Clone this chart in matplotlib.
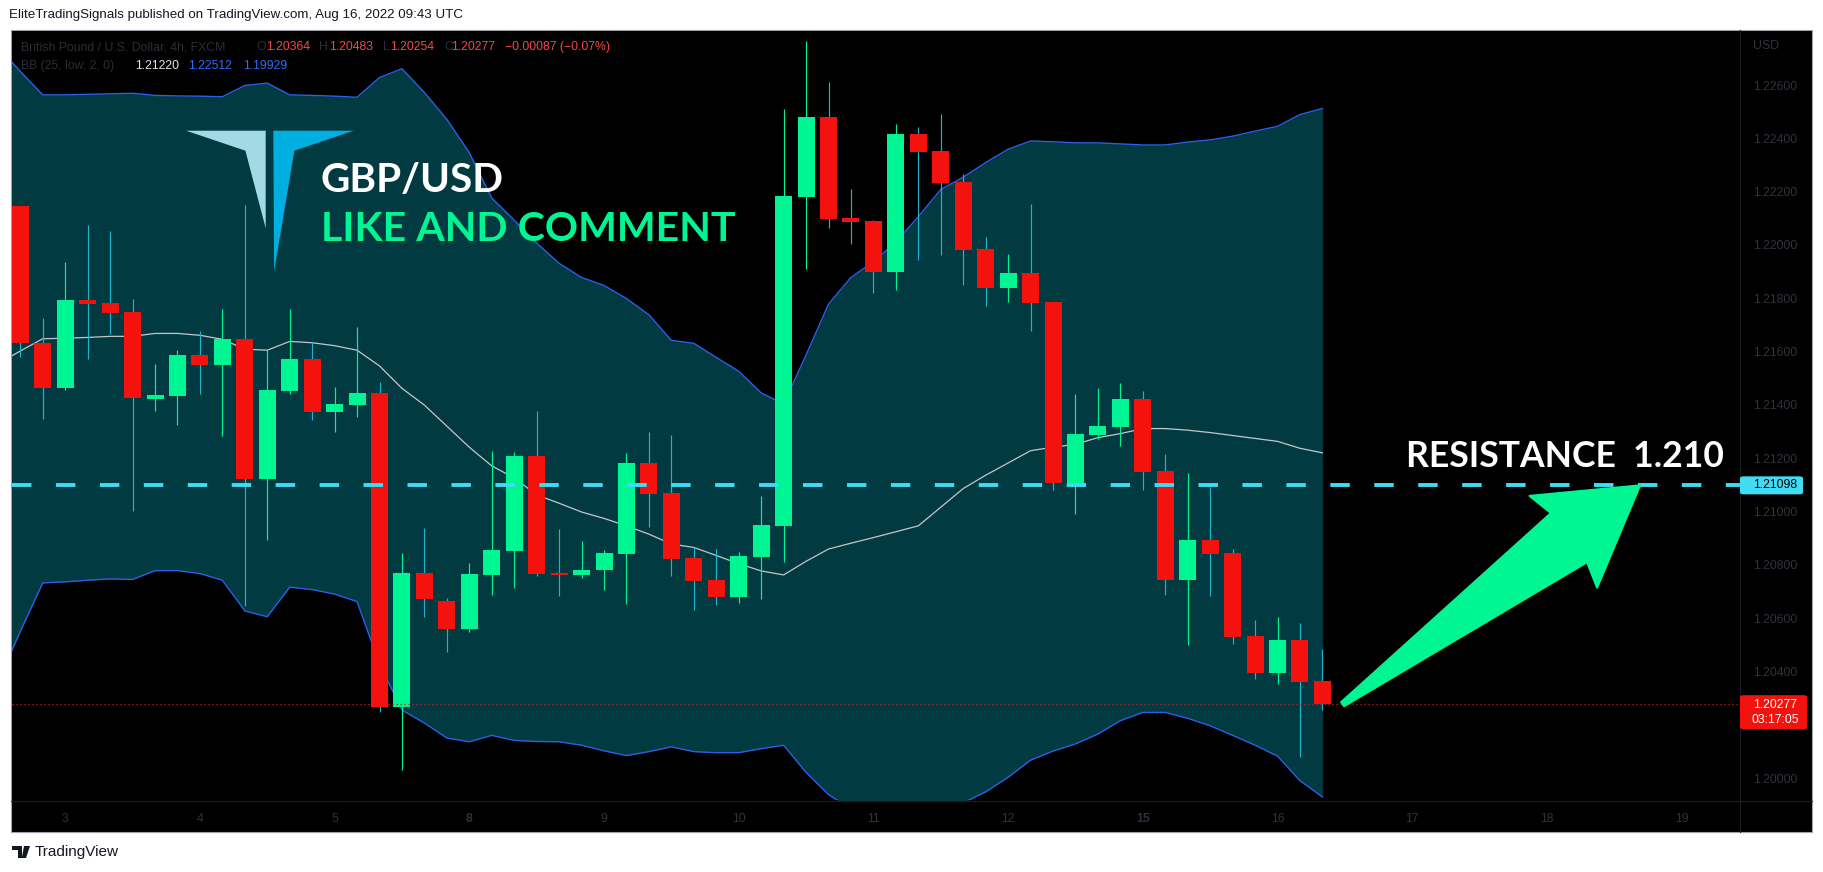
import numpy as np
import matplotlib
matplotlib.use("Agg")
import matplotlib.pyplot as plt
import matplotlib.transforms as mtransforms
from matplotlib.patches import Polygon, Rectangle, FancyBboxPatch
from matplotlib.lines import Line2D
from matplotlib.ticker import FormatStrFormatter

# GBP/USD 4h candles (FXCM)
opens = [1.22145, 1.21633, 1.21463, 1.21793, 1.21782, 1.21749, 1.21423, 1.21434, 1.21587, 1.21550,
         1.21648, 1.21123, 1.21452, 1.21572, 1.21373, 1.21399, 1.21445, 1.20266, 1.20769, 1.20664,
         1.20559, 1.20762, 1.20852, 1.21209, 1.20769, 1.20760, 1.20780, 1.20841, 1.21182, 1.21069,
         1.20826, 1.20743, 1.20679, 1.20830, 1.20946, 1.22180, 1.22480, 1.22101, 1.22090, 1.21898,
         1.22416, 1.22353, 1.22237, 1.21985, 1.21839, 1.21894, 1.21786, 1.21108, 1.21287, 1.21318,
         1.21423, 1.21152, 1.20743, 1.20893, 1.20845, 1.20533, 1.20395, 1.20519, 1.20364]
highs = [1.22145, 1.21727, 1.21937, 1.22075, 1.22053, 1.21797, 1.21554, 1.21605, 1.21677, 1.21760,
         1.22150, 1.21605, 1.21760, 1.21637, 1.21467, 1.21692, 1.21486, 1.20845, 1.20939, 1.20675,
         1.20808, 1.21228, 1.21224, 1.21377, 1.20935, 1.20889, 1.20856, 1.21220, 1.21298, 1.21287,
         1.20865, 1.20859, 1.20848, 1.21058, 1.22510, 1.22766, 1.22611, 1.22209, 1.22093, 1.22454,
         1.22443, 1.22491, 1.22267, 1.22031, 1.21966, 1.22154, 1.21786, 1.21441, 1.21463, 1.21482,
         1.21452, 1.21217, 1.21145, 1.21091, 1.20859, 1.20594, 1.20605, 1.20581, 1.20483]
lows = [1.21578, 1.21347, 1.21456, 1.21572, 1.21666, 1.21003, 1.21377, 1.21325, 1.21441, 1.21283,
        1.20646, 1.20893, 1.21441, 1.21344, 1.21298, 1.21355, 1.20248, 1.20031, 1.20605, 1.20473,
        1.20548, 1.20686, 1.20714, 1.20758, 1.20684, 1.20751, 1.20705, 1.20653, 1.20942, 1.20758,
        1.20631, 1.20649, 1.20657, 1.20672, 1.20811, 1.21909, 1.22064, 1.22003, 1.21819, 1.21832,
        1.21944, 1.21963, 1.21850, 1.21771, 1.21786, 1.21677, 1.21080, 1.20990, 1.21272, 1.21246,
        1.21080, 1.20686, 1.20500, 1.20683, 1.20504, 1.20371, 1.20353, 1.20077, 1.20254]
closes = [1.21631, 1.21463, 1.21793, 1.21778, 1.21745, 1.21425, 1.21438, 1.21587, 1.21550, 1.21648,
          1.21123, 1.21456, 1.21572, 1.21375, 1.21403, 1.21445, 1.20266, 1.20769, 1.20672, 1.20559,
          1.20765, 1.20856, 1.21209, 1.20765, 1.20760, 1.20782, 1.20845, 1.21182, 1.21066, 1.20823,
          1.20740, 1.20679, 1.20834, 1.20950, 1.22184, 1.22480, 1.22097, 1.22086, 1.21898, 1.22416,
          1.22349, 1.22232, 1.21981, 1.21839, 1.21894, 1.21782, 1.21108, 1.21290, 1.21322, 1.21423,
          1.21149, 1.20743, 1.20893, 1.20841, 1.20530, 1.20395, 1.20519, 1.20360, 1.20277]

# Bollinger bands BB(25, low, 2, 0), one value per bar starting one bar before the first candle
bb_upper = [1.22744, 1.22651, 1.22563, 1.22563, 1.22565, 1.22567, 1.22569, 1.22561, 1.22559, 1.22558,
            1.22556, 1.22598, 1.22607, 1.22563, 1.22561, 1.22558, 1.22554, 1.22628, 1.22661, 1.22572,
            1.22471, 1.22346, 1.22176, 1.22093, 1.22007, 1.21931, 1.21878, 1.21848, 1.21799, 1.21738,
            1.21642, 1.21631, 1.21578, 1.21526, 1.21445, 1.21403, 1.21587, 1.21778, 1.21878, 1.21937,
            1.22011, 1.22106, 1.22208, 1.22254, 1.22309, 1.22359, 1.22390, 1.22387, 1.22383, 1.22383,
            1.22379, 1.22375, 1.22375, 1.22386, 1.22394, 1.22408, 1.22427, 1.22445, 1.22489, 1.22512]
bb_basis = [1.21554, 1.21602, 1.21648, 1.21650, 1.21653, 1.21657, 1.21657, 1.21668, 1.21668, 1.21661,
            1.21646, 1.21609, 1.21605, 1.21638, 1.21633, 1.21622, 1.21605, 1.21546, 1.21462, 1.21399,
            1.21320, 1.21241, 1.21171, 1.21126, 1.21062, 1.21031, 1.20998, 1.20974, 1.20946, 1.20915,
            1.20878, 1.20865, 1.20835, 1.20804, 1.20777, 1.20762, 1.20813, 1.20859, 1.20881, 1.20902,
            1.20924, 1.20946, 1.21016, 1.21086, 1.21136, 1.21182, 1.21228, 1.21241, 1.21252, 1.21277,
            1.21292, 1.21311, 1.21311, 1.21305, 1.21296, 1.21285, 1.21274, 1.21263, 1.21237, 1.21220]
bb_lower = [1.20360, 1.20550, 1.20732, 1.20736, 1.20742, 1.20747, 1.20745, 1.20778, 1.20778, 1.20767,
            1.20742, 1.20627, 1.20605, 1.20716, 1.20707, 1.20690, 1.20662, 1.20427, 1.20255, 1.20206,
            1.20150, 1.20136, 1.20160, 1.20141, 1.20137, 1.20136, 1.20123, 1.20102, 1.20084, 1.20099,
            1.20117, 1.20099, 1.20095, 1.20095, 1.20110, 1.20123, 1.20021, 1.19938, 1.19883, 1.19856,
            1.19846, 1.19856, 1.19874, 1.19907, 1.19948, 1.20003, 1.20067, 1.20101, 1.20128, 1.20165,
            1.20215, 1.20246, 1.20246, 1.20224, 1.20196, 1.20160, 1.20123, 1.20082, 1.19990, 1.19929]

day_labels = ["3", "4", "5", "8", "9", "10", "11", "12", "15", "16", "17", "18", "19"]
day_bar_index = [2, 8, 14, 20, 26, 32, 38, 44, 50, 56, 62, 68, 74]
week_start_labels = ["8", "15"]

resistance = 1.21098
countdown = "03:17:05"

W, H, DPI = 1823, 872, 100
GREEN = "#00f593"
RED = "#f4120e"
RED_WICK = "#1db6cc"
BAND_FILL = "#023a41"
BAND_LINE = "#2b5fe6"
BASIS = "#c4c6cb"
CYAN = "#3fdcf4"
DIM = "#30333d"
LEG_DIM = "#2b2e37"
SMALL = 8.8
plt.rcParams["font.family"] = ["Liberation Sans", "DejaVu Sans"]


def fp(x, y):
    # screenshot pixel (origin top-left) -> figure fraction
    return x / W, 1 - y / H


fig = plt.figure(figsize=(W / DPI, H / DPI), dpi=DPI, facecolor="white")

# chart frame
x0, y0 = fp(11, 832)
x1, y1 = fp(1812, 30)
fig.add_artist(Rectangle((x0, y0), x1 - x0, y1 - y0, transform=fig.transFigure,
                         facecolor="black", edgecolor="#a0a3ab", lw=0.8, zorder=0))

ax_l, ax_b = fp(11.5, 800)
ax_r, ax_t = fp(1740, 31)
ax = fig.add_axes([ax_l, ax_b, ax_r - ax_l, ax_t - ax_b])
ax.set_facecolor("black")
for s in ax.spines.values():
    s.set_visible(False)
ax.set_xlim(-0.392, 76.6)
ax.set_ylim(1.199175, 1.228026)

# bands
bx = np.arange(-1, len(bb_upper) - 1)
ax.fill_between(bx, bb_lower, bb_upper, color=BAND_FILL, lw=0, zorder=1)
ax.plot(bx, bb_upper, color=BAND_LINE, lw=1.0, zorder=2)
ax.plot(bx, bb_lower, color=BAND_LINE, lw=1.0, zorder=2)
ax.plot(bx, bb_basis, color=BASIS, lw=0.9, zorder=2)

# candles
o = np.array(opens)
c = np.array(closes)
idx = np.arange(len(o))
up = c >= o
body_col = np.where(up, GREEN, RED)
wick_col = np.where(up, GREEN, RED_WICK)
ax.vlines(idx, lows, highs, colors=wick_col, lw=0.85, zorder=3)
body_h = np.maximum(np.abs(c - o), 0.00004)
ax.bar(idx, body_h, bottom=np.minimum(o, c), width=0.757, color=body_col, lw=0, zorder=4)

# horizontal lines
ax.axhline(resistance, color=CYAN, lw=2.8, linestyle=(0, (5.0, 6.3)), zorder=5)
ax.axhline(closes[-1], color=RED, lw=0.9, linestyle=(0, (1, 2.2)), zorder=5)

# axes ticks (price labels hidden behind the last-price box are dropped)
yt = np.arange(1.200, 1.2261, 0.002)
yt = yt[np.abs(yt - closes[-1]) > 0.0009]
ax.yaxis.tick_right()
ax.set_yticks(yt)
ax.yaxis.set_major_formatter(FormatStrFormatter("%.5f"))
ax.tick_params(axis="y", length=0, pad=9.4, labelcolor=DIM, labelsize=SMALL)
ax.set_xticks(day_bar_index)
ax.set_xticklabels(day_labels)
ax.tick_params(axis="x", length=0, pad=9, labelcolor=DIM, labelsize=SMALL)
for lbl in ax.get_xticklabels():
    if lbl.get_text() in week_start_labels:
        lbl.set_fontweight("bold")

# separators
fig.add_artist(Line2D([fp(11, 0)[0], fp(1812, 0)[0]], [fp(0, 800.5)[1]] * 2,
                      transform=fig.transFigure, color="#1b1d24", lw=0.8))
fig.add_artist(Line2D([fp(1740, 0)[0]] * 2, [fp(0, 30)[1], fp(0, 832)[1]],
                      transform=fig.transFigure, color="#1b1d24", lw=0.8))


def y_px(price):
    return H - ax.transData.transform((0, price))[1]


# price labels on the axis
yr = y_px(resistance)
bx0, by0 = fp(1740, yr + 9)
bx1, by1 = fp(1803, yr - 9)
fig.add_artist(FancyBboxPatch((bx0, by0), bx1 - bx0, by1 - by0, boxstyle="round,pad=0,rounding_size=0.002",
                              transform=fig.transFigure, facecolor=CYAN, lw=0, zorder=6))
fig.text(*fp(1753, yr), f"{resistance:.5f}", color="black", fontsize=SMALL, va="center", zorder=7)

yc = y_px(closes[-1])
bx0, by0 = fp(1740, yc + 25)
bx1, by1 = fp(1807, yc - 9)
fig.add_artist(FancyBboxPatch((bx0, by0), bx1 - bx0, by1 - by0, boxstyle="round,pad=0,rounding_size=0.002",
                              transform=fig.transFigure, facecolor=RED, lw=0, zorder=6))
fig.text(*fp(1753, yc + 0.5), f"{closes[-1]:.5f}", color="white", fontsize=SMALL, va="center", zorder=7)
fig.text(*fp(1752, yc + 16), countdown, color="white", fontsize=SMALL, va="center", zorder=7)
fig.text(*fp(1753, 46), "USD", color=DIM, fontsize=SMALL, va="center")

# legend lines in the top-left corner
RED_TXT = "#f24848"
legend1 = [(20.7, "British Pound / U.S. Dollar, 4h, FXCM", LEG_DIM),
           (256, "O", LEG_DIM), (266, f"{opens[-1]:.5f}", RED_TXT),
           (319, "H", LEG_DIM), (329, f"{highs[-1]:.5f}", RED_TXT),
           (383, "L", LEG_DIM), (390, f"{lows[-1]:.5f}", RED_TXT),
           (444, "C", LEG_DIM), (451, f"{closes[-1]:.5f}", RED_TXT),
           (505, "\u22120.00087 (\u22120.07%)", RED_TXT)]
for x, t, col in legend1:
    fig.text(*fp(x, 47), t, color=col, fontsize=SMALL, va="center", zorder=7)
legend2 = [(20.7, "BB (25, low, 2, 0)", LEG_DIM), (135, f"{bb_basis[-1]:.5f}", "#dfe2ea"),
           (188, f"{bb_upper[-1]:.5f}", "#2f6bff"), (243, f"{bb_lower[-1]:.5f}", "#2f6bff")]
for x, t, col in legend2:
    fig.text(*fp(x, 66), t, color=col, fontsize=SMALL, va="center", zorder=7)

# logo
light = [(186.1, 130.7), (265.7, 130.7), (265.7, 228.3), (245.4, 150.7)]
dark = [(273.3, 130.7), (353.7, 130.7), (294.4, 150.7), (274.1, 271.7)]
fig.add_artist(Polygon([fp(*p) for p in light], closed=True, transform=fig.transFigure,
                       facecolor="#a3d9e4", lw=0, zorder=6))
fig.add_artist(Polygon([fp(*p) for p in dark], closed=True, transform=fig.transFigure,
                       facecolor="#00aee0", lw=0, zorder=6))
fig.text(*fp(321, 192), "GBP/USD", color="white", fontsize=29.2, fontweight="bold",
         family=["Lato", "DejaVu Sans"], va="baseline", zorder=7)
fig.text(*fp(321, 241), "LIKE AND COMMENT", color=GREEN, fontsize=29.6, fontweight="bold",
         family=["Lato", "DejaVu Sans"], va="baseline", zorder=7)

# resistance caption and arrow
fig.text(*fp(1724, 466.7), "RESISTANCE  1.210", color="white", fontsize=25.6, fontweight="bold",
         family=["Lato", "DejaVu Sans"], va="baseline", ha="right", zorder=7)

T = ax.transData.transform((len(closes) - 0.1, closes[-1]))
P = ax.transData.transform((72.15, resistance))
d = P - T
L = np.hypot(*d)
u = d / L
v = np.array([-u[1], u[0]])
shape = [(0, -2.5), (281, -30.5), (274, -57), (L, 0), (274, 57), (281, 30.5), (0, 2.5)]
pts = [T + a * u + b * v for a, b in shape]
fig.add_artist(Polygon(pts, closed=True, transform=mtransforms.IdentityTransform(),
                       facecolor=GREEN, edgecolor=GREEN, lw=1.5, joinstyle="round", zorder=8))

# header and footer
fig.text(*fp(9, 15), "EliteTradingSignals published on TradingView.com, Aug 16, 2022 09:43 UTC",
         color="#131722", fontsize=9.6, va="center")
tv = [[(12, 846), (21.5, 846), (21.5, 858), (17.5, 858), (17.5, 849.5), (12, 849.5)],
      [(24, 846), (30, 846), (26, 858), (21.8, 858)]]
for poly in tv:
    fig.add_artist(Polygon([fp(*p) for p in poly], closed=True, transform=fig.transFigure,
                           facecolor="#131722", lw=0))
fig.text(*fp(35, 852), "TradingView", color="#131722", fontsize=11, va="center")

fig.savefig("out.png", dpi=DPI, facecolor="white")
